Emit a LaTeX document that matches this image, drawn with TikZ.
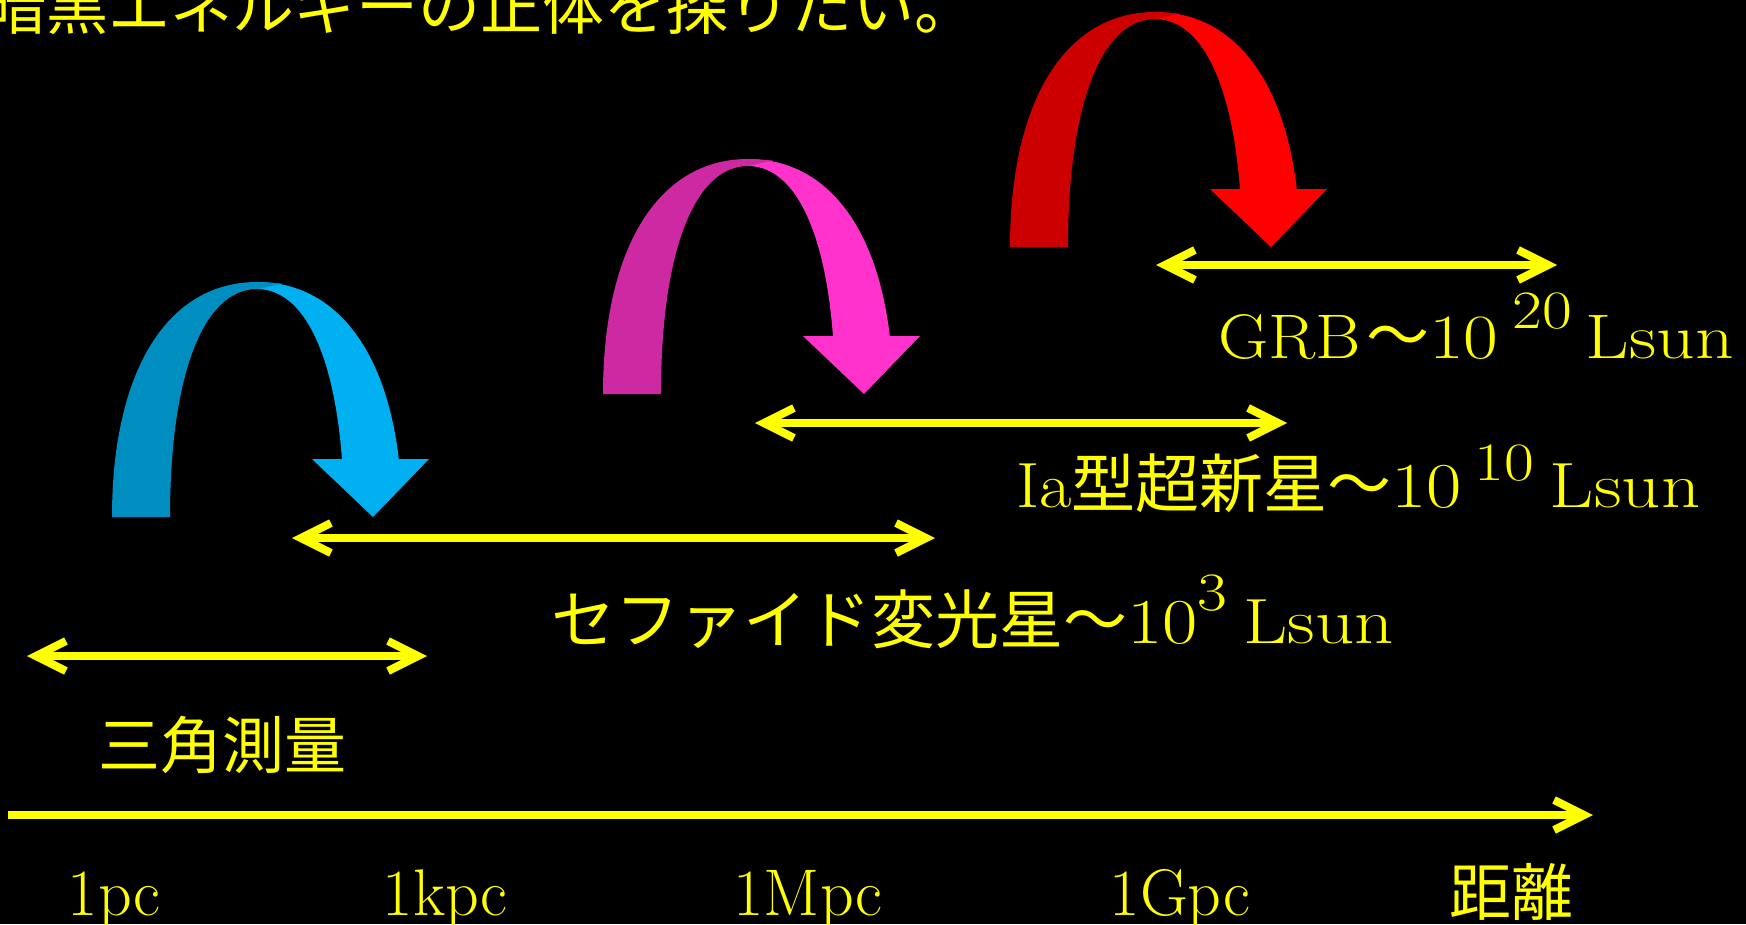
\documentclass[tikz,border=0pt]{standalone}
\usepackage{fontspec}
\newfontfamily\jp{Noto Sans CJK JP}
\newfontfamily\lmw{Latin Modern Roman}[FakeStretch=1.1]
\newfontfamily\lmd{Latin Modern Roman}[FakeStretch=1.2]
\usetikzlibrary{arrows.meta}
\definecolor{bluedark}{RGB}{0,141,192}
\definecolor{bluelight}{RGB}{0,176,240}
\definecolor{magdark}{RGB}{204,41,163}
\definecolor{maglight}{RGB}{255,51,204}
\definecolor{reddark}{RGB}{204,0,0}
\definecolor{redlight}{RGB}{255,0,0}
\definecolor{yel}{RGB}{255,255,0}
\newcommand\supx[2]{\raisebox{#1}{\fontsize{54pt}{60pt}\selectfont\lmd #2}}
% U-turn arrow: #1,#2 = left outer foot (screen px), #3 dark, #4 light
\newcommand\uturnarrow[4]{%
  \begin{scope}[shift={(#1,-#2)}]
    \begin{scope}
      \clip (140,58) rectangle (400,300);
      \fill[#4] (145,228) -- (145,235)
        .. controls (234.9,235) and (290,145.7) .. (290,0)
        -- (232,0)
        .. controls (232,141.4) and (198.9,228) .. (145,228) -- cycle;
    \end{scope}
    \fill[#4] (200,58) -- (317,58) -- (261,0) -- cycle;
    \fill[#3] (0,0) .. controls (0,145.7) and (55.1,235) .. (145,235)
      -- (170,233.5) -- (145,228)
      .. controls (91.1,228) and (58,141.4) .. (58,0) -- cycle;
  \end{scope}}
\begin{document}
\begin{tikzpicture}[x=1pt,y=1pt,
  txt/.style={text=yel,inner sep=0pt,outer sep=0pt},
  big/.style={txt,font=\fontsize{64pt}{70pt}\selectfont\lmw},
  axlbl/.style={txt,anchor=base,font=\fontsize{66pt}{72pt}\selectfont},
  dbl/.style={draw=yel,line width=8pt,{Straight Barb[length=30pt,width=30pt]}-{Straight Barb[length=30pt,width=30pt]}},
  axisline/.style={draw=yel,line width=8pt,-{Straight Barb[length=30pt,width=30pt]}}]
\fill[black] (0,0) rectangle (1746,-924);
\useasboundingbox (0,0) rectangle (1746,-924);

% title
\node[txt,anchor=base west,font=\fontsize{62pt}{68pt}\selectfont\jp] (title) at (-15,-29) {暗黒エネルギーの正体を探りたい。};

% curved arrows
\uturnarrow{112}{517}{bluedark}{bluelight}
\uturnarrow{603}{394}{magdark}{maglight}
\uturnarrow{1010}{247}{reddark}{redlight}

% distance axis
\coordinate (axisL) at (8,-815);
\coordinate (axisR) at (1593,-815);
\draw[axisline] (axisL) -- (axisR);
\node[axlbl] (lpc) at (114,-915) {1pc};
\node[axlbl] (lkpc) at (445,-915) {1kpc};
\node[axlbl] (lMpc) at (808,-915) {1Mpc};
\node[axlbl] (lGpc) at (1180,-915) {1Gpc};
\node[axlbl,font=\fontsize{62pt}{68pt}\selectfont\jp] (ldist) at (1511,-915) {距離};

% ranges
\coordinate (triL) at (27,-656);
\coordinate (triR) at (427,-656);
\draw[dbl] (triL) -- (triR);
\node[txt,anchor=base,font=\fontsize{62pt}{68pt}\selectfont\jp] (tri) at (222,-768) {三角測量};

\coordinate (cepL) at (292,-538);
\coordinate (cepR) at (935,-538);
\draw[dbl] (cepL) -- (cepR);
\node[big,anchor=base west] (cep) at (551,-643) {{\jp セファイド変光星～}{\lmd 10}\supx{33pt}{3}\hspace{16pt}{\lmd Lsun}};

\coordinate (iaL) at (755,-423);
\coordinate (iaR) at (1287,-423);
\draw[dbl] (iaL) -- (iaR);
\node[big,anchor=base west] (ia) at (1016,-507) {\makebox[55pt][l]{Ia}{\jp 型超新星～}{\lmd 10}\hspace{13pt}\supx{27pt}{10}\hspace{16pt}{\lmd Lsun}};

\coordinate (grbL) at (1156,-265);
\coordinate (grbR) at (1557,-265);
\draw[dbl] (grbL) -- (grbR);
\node[txt,anchor=base west,font=\fontsize{63pt}{70pt}\selectfont\lmw] (grb) at (1218,-358) {\makebox[148pt][l]{GRB}{\jp ～}{\lmd 10}\hspace{14pt}\supx{30pt}{20}\hspace{14pt}{\lmd Lsun}};
\end{tikzpicture}
\end{document}
